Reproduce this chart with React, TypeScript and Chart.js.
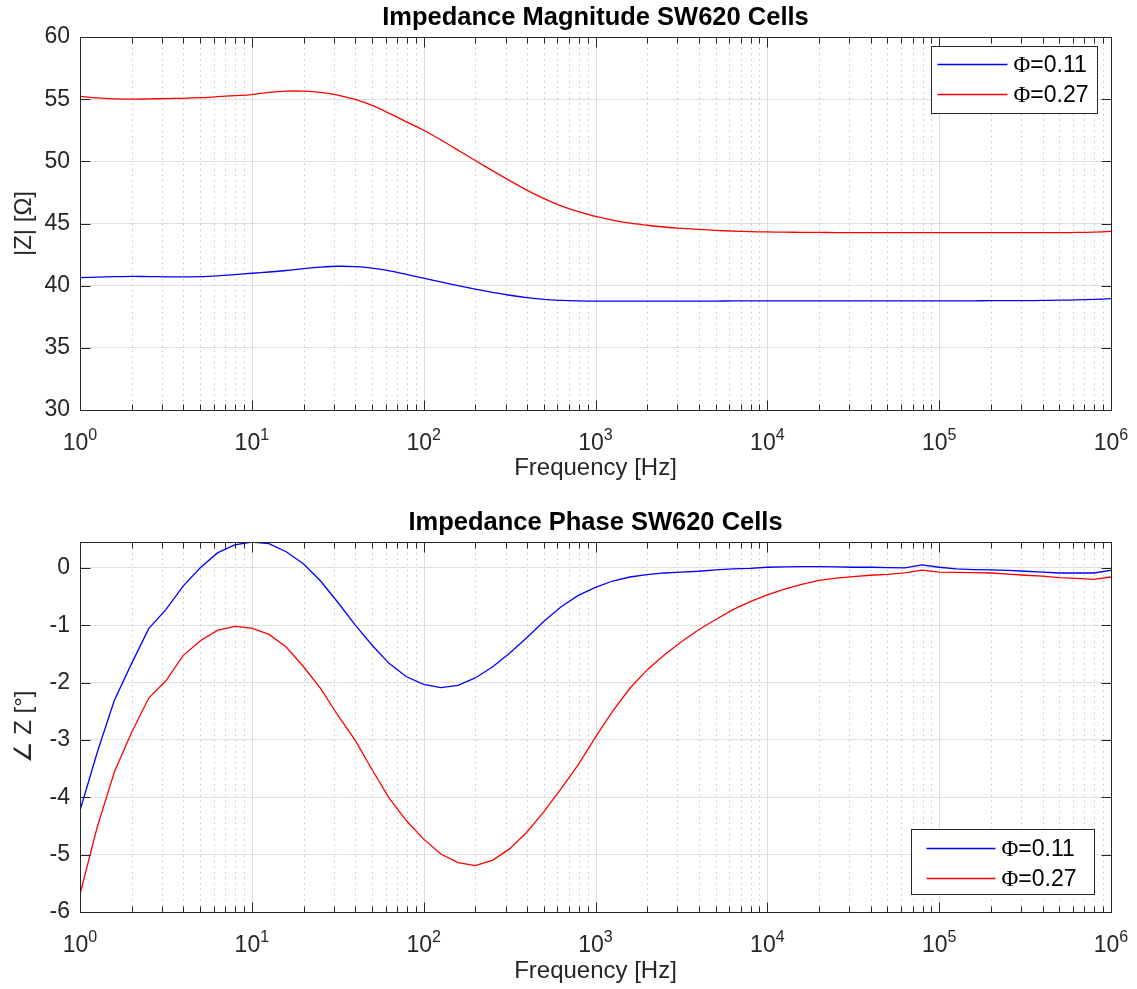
import React, { useEffect, useRef } from 'react';
import { Chart, registerables } from 'chart.js';

Chart.register(...registerables);

// ---------------- data ----------------
const FREQ_HZ = [
  1, 1.259, 1.585, 1.995, 2.512, 3.162, 3.981, 5.012, 6.31, 7.943,
  10, 12.59, 15.85, 19.95, 25.12, 31.62, 39.81, 50.12, 63.1, 79.43,
  100, 125.9, 158.5, 199.5, 251.2, 316.2, 398.1, 501.2, 631, 794.3,
  1000, 1259, 1585, 1995, 2512, 3162, 3981, 5012, 6310, 7943,
  10000, 12590, 15850, 19950, 25120, 31620, 39810, 50120, 63100, 79430,
  100000, 125900, 158500, 199500, 251200, 316200, 398100, 501200, 631000, 794300, 1000000,
];

const MAG_PHI_011 = [
  40.64, 40.68, 40.72, 40.75, 40.73, 40.71, 40.7, 40.72, 40.79, 40.89,
  41.0, 41.1, 41.22, 41.37, 41.49, 41.56, 41.53, 41.41, 41.19, 40.91,
  40.6, 40.3, 40.0, 39.72, 39.46, 39.23, 39.04, 38.9, 38.82, 38.77,
  38.75, 38.75, 38.75, 38.75, 38.76, 38.76, 38.76, 38.76, 38.77, 38.77,
  38.77, 38.77, 38.77, 38.77, 38.77, 38.78, 38.78, 38.78, 38.78, 38.78,
  38.78, 38.78, 38.78, 38.79, 38.79, 38.8, 38.81, 38.83, 38.86, 38.9, 38.95,
];

const MAG_PHI_027 = [
  55.23, 55.1, 55.03, 55.0, 55.02, 55.05, 55.07, 55.12, 55.2, 55.28,
  55.37, 55.55, 55.65, 55.64, 55.54, 55.33, 54.98, 54.5, 53.86, 53.18,
  52.5, 51.72, 50.9, 50.07, 49.25, 48.45, 47.68, 47.0, 46.42, 45.95,
  45.57, 45.27, 45.03, 44.86, 44.72, 44.61, 44.52, 44.45, 44.39, 44.35,
  44.32, 44.3, 44.29, 44.28, 44.27, 44.27, 44.26, 44.26, 44.26, 44.26,
  44.26, 44.26, 44.26, 44.26, 44.26, 44.26, 44.26, 44.27, 44.28, 44.31, 44.36,
];

const PHASE_PHI_011 = [
  -4.23, -3.22, -2.31, -1.67, -1.06, -0.73, -0.32, 0.0, 0.26, 0.4,
  0.45, 0.42, 0.28, 0.07, -0.23, -0.6, -0.99, -1.35, -1.67, -1.9,
  -2.03, -2.09, -2.05, -1.92, -1.73, -1.49, -1.22, -0.93, -0.68, -0.48,
  -0.34, -0.23, -0.16, -0.12, -0.09, -0.075, -0.06, -0.035, -0.02, -0.01,
  0.01, 0.015, 0.02, 0.02, 0.015, 0.01, 0.01, 0.005, 0.0, 0.05,
  0.01, -0.02, -0.03, -0.035, -0.045, -0.06, -0.075, -0.09, -0.09, -0.09, -0.045,
];

const PHASE_PHI_027 = [
  -5.69, -4.52, -3.56, -2.87, -2.27, -1.97, -1.53, -1.27, -1.09, -1.02,
  -1.05, -1.16, -1.38, -1.72, -2.1, -2.57, -3.0, -3.52, -4.02, -4.41,
  -4.73, -4.99, -5.14, -5.19, -5.1, -4.9, -4.61, -4.25, -3.85, -3.43,
  -2.95, -2.5, -2.1, -1.78, -1.52, -1.29, -1.08, -0.9, -0.73, -0.59,
  -0.47, -0.37, -0.29, -0.22, -0.18, -0.155, -0.13, -0.115, -0.09, -0.04,
  -0.075, -0.08, -0.085, -0.09, -0.11, -0.13, -0.145, -0.17, -0.185, -0.2, -0.16,
];

const SERIES_LABELS = ['Φ=0.11', 'Φ=0.27'];
const X_DECADES = [1, 10, 100, 1000, 10000, 100000, 1000000];
const X_EXPONENTS = ['0', '1', '2', '3', '4', '5', '6'];
const X_MINOR_MULT = [2, 3, 4, 5, 6, 7, 8, 9];

const MAG_TICKS = { min: 30, max: 60, step: 5 };
const PHASE_TICKS = { min: -6, max: 0.45, step: 1 };

// ---------------- styling ----------------
const SANS = "'Liberation Sans', Arial, Helvetica, sans-serif";
const SERIF = "'Liberation Serif', 'Times New Roman', serif";
const AXIS_COLOR = '#262626';
const BLUE = '#0000ff';
const RED = '#ff0000';

const matlabAxes = {
  id: 'matlabAxes',
  beforeDatasetsDraw(chart: any) {
    const { ctx, chartArea } = chart;
    const { top, bottom } = chartArea;
    const xs = chart.scales.x;
    ctx.save();
    // minor dotted grid
    ctx.strokeStyle = '#c6c6c6';
    ctx.lineWidth = 1;
    ctx.setLineDash([1.5, 4]);
    for (let d = 0; d < X_DECADES.length - 1; d++) {
      for (const m of X_MINOR_MULT) {
        const px = Math.round(xs.getPixelForValue(X_DECADES[d] * m)) + 0.5;
        ctx.beginPath();
        ctx.moveTo(px, top);
        ctx.lineTo(px, bottom);
        ctx.stroke();
      }
    }
    ctx.setLineDash([]);
    ctx.strokeStyle = '#dcdcdc';
    for (const v of X_DECADES) {
      const px = Math.round(xs.getPixelForValue(v)) + 0.5;
      ctx.beginPath();
      ctx.moveTo(px, top);
      ctx.lineTo(px, bottom);
      ctx.stroke();
    }
    ctx.restore();
  },
  afterDatasetsDraw(chart: any, _args: any, opts: any) {
    const { ctx, chartArea } = chart;
    const { left, right, top, bottom } = chartArea;
    const xs = chart.scales.x;
    const ys = chart.scales.y;
    ctx.save();
    ctx.strokeStyle = AXIS_COLOR;
    ctx.lineWidth = 1;
    const L = Math.floor(left) + 0.5;
    const R = Math.floor(right) + 0.5;
    const T = Math.floor(top) + 0.5;
    const B = Math.floor(bottom) + 0.5;
    ctx.strokeRect(L, T, R - L, B - T);
    ctx.beginPath();
    // x ticks (bottom + top)
    for (let d = 0; d < X_DECADES.length; d++) {
      const px = Math.round(xs.getPixelForValue(X_DECADES[d])) + 0.5;
      ctx.moveTo(px, B); ctx.lineTo(px, B - 10);
      ctx.moveTo(px, T); ctx.lineTo(px, T + 10);
      if (d < X_DECADES.length - 1) {
        for (const m of X_MINOR_MULT) {
          const qx = Math.round(xs.getPixelForValue(X_DECADES[d] * m)) + 0.5;
          ctx.moveTo(qx, B); ctx.lineTo(qx, B - 6);
          ctx.moveTo(qx, T); ctx.lineTo(qx, T + 6);
        }
      }
    }
    // y ticks (left + right)
    for (const t of ys.ticks) {
      const py = Math.round(ys.getPixelForValue(t.value)) + 0.5;
      ctx.moveTo(L, py); ctx.lineTo(L + 10, py);
      ctx.moveTo(R, py); ctx.lineTo(R - 10, py);
    }
    ctx.stroke();

    // x tick labels 10^n
    ctx.fillStyle = AXIS_COLOR;
    ctx.textBaseline = 'alphabetic';
    ctx.textAlign = 'left';
    for (let d = 0; d < X_DECADES.length; d++) {
      const px = xs.getPixelForValue(X_DECADES[d]);
      ctx.font = `23px ${SANS}`;
      const wb = ctx.measureText('10').width;
      ctx.font = `16px ${SANS}`;
      const we = ctx.measureText(X_EXPONENTS[d]).width;
      const x0 = px - (wb + we) / 2;
      ctx.font = `23px ${SANS}`;
      ctx.fillText('10', x0, bottom + 40);
      ctx.font = `16px ${SANS}`;
      ctx.fillText(X_EXPONENTS[d], x0 + wb, bottom + 30);
    }

    // legend
    const lg = opts.legend;
    if (lg) {
      const bx = Math.round(right - lg.insetX - lg.w) + 0.5;
      const by = lg.corner === 'ne'
        ? Math.round(top + lg.insetY) + 0.5
        : Math.round(bottom - lg.insetY - lg.h) + 0.5;
      ctx.fillStyle = '#ffffff';
      ctx.fillRect(bx, by, lg.w, lg.h);
      ctx.strokeStyle = AXIS_COLOR;
      ctx.lineWidth = 1;
      ctx.strokeRect(bx, by, lg.w, lg.h);
      chart.data.datasets.forEach((ds: any, i: number) => {
        const ry = by + lg.row0 + i * lg.rowGap;
        ctx.strokeStyle = ds.borderColor;
        ctx.lineWidth = 1.3;
        ctx.beginPath();
        ctx.moveTo(bx + lg.linePad, ry);
        ctx.lineTo(bx + lg.linePad + lg.lineLen, ry);
        ctx.stroke();
        const label: string = ds.label;
        let tx = bx + lg.linePad + lg.lineLen + lg.gap;
        ctx.fillStyle = '#000000';
        ctx.textBaseline = 'middle';
        if (label.startsWith('Φ')) {
          ctx.font = `23px ${SERIF}`;
          ctx.fillText('Φ', tx, ry + 1);
          tx += ctx.measureText('Φ').width;
          ctx.font = `23px ${SANS}`;
          ctx.fillText(label.slice(1), tx, ry + 1);
        } else {
          ctx.font = `23px ${SANS}`;
          ctx.fillText(label, tx, ry + 1);
        }
      });
    }
    ctx.restore();
  },
};

function makeConfig(
  title: string,
  titlePad: { top: number; bottom: number },
  yLabel: string,
  yTicks: { min: number; max: number; step: number },
  series: number[][],
  smooth: boolean,
  xAxisHeight: number,
  xTitleBottomPad: number,
  legend: any,
): any {
  const colors = [BLUE, RED];
  return {
    type: 'line',
    data: {
      datasets: series.map((vals, i) => ({
        label: SERIES_LABELS[i],
        data: FREQ_HZ.map((f, k) => ({ x: f, y: vals[k] })),
        borderColor: colors[i],
        backgroundColor: colors[i],
        borderWidth: 1.3,
        pointRadius: 0,
        fill: false,
        tension: smooth ? 0.35 : 0,
      })),
    },
    options: {
      responsive: false,
      animation: false,
      devicePixelRatio: 1,
      events: [],
      layout: { padding: { left: 0, right: 26, top: 0, bottom: 0 } },
      plugins: {
        legend: { display: false },
        tooltip: { enabled: false },
        title: {
          display: true,
          text: title,
          fullSize: false,
          color: '#000000',
          font: { family: SANS, size: 25.5, weight: 'bold', lineHeight: 1.2 },
          padding: titlePad,
        },
        matlabAxes: { legend },
      },
      scales: {
        x: {
          type: 'logarithmic',
          min: 1,
          max: 1000000,
          grid: { display: false },
          border: { display: false },
          ticks: { display: false },
          title: {
            display: true,
            text: 'Frequency [Hz]',
            color: AXIS_COLOR,
            font: { family: SANS, size: 24, lineHeight: 1.2 },
            padding: { top: 0, bottom: xTitleBottomPad },
          },
          afterFit: (s: any) => { s.height = xAxisHeight; },
        },
        y: {
          type: 'linear',
          min: yTicks.min,
          max: yTicks.max,
          ticks: {
            stepSize: yTicks.step,
            includeBounds: false,
            color: AXIS_COLOR,
            font: { family: SANS, size: 23 },
            padding: 10,
          },
          grid: { color: '#e0e0e0', drawTicks: false },
          border: { display: false },
          title: {
            display: true,
            text: yLabel,
            color: AXIS_COLOR,
            font: { family: SANS, size: 24, lineHeight: 1.2 },
            padding: { top: 10, bottom: 0 },
          },
          afterFit: (s: any) => { s.width = 80; },
        },
      },
    },
    plugins: [matlabAxes],
  };
}

export default function App() {
  const topRef = useRef<HTMLCanvasElement | null>(null);
  const botRef = useRef<HTMLCanvasElement | null>(null);

  useEffect(() => {
    const c1 = new Chart(
      topRef.current as HTMLCanvasElement,
      makeConfig(
        'Impedance Magnitude SW620 Cells',
        { top: 2.4, bottom: 4 },
        '|Z| [Ω]',
        MAG_TICKS,
        [MAG_PHI_011, MAG_PHI_027],
        true,
        84,
        11.6,
        { corner: 'ne', insetX: 14, insetY: 9, w: 166, h: 67, linePad: 6, lineLen: 70, gap: 6, row0: 18, rowGap: 30 },
      ),
    );
    const c2 = new Chart(
      botRef.current as HTMLCanvasElement,
      makeConfig(
        'Impedance Phase SW620 Cells',
        { top: 13.7, bottom: 3.7 },
        '∠ Z [°]',
        PHASE_TICKS,
        [PHASE_PHI_011, PHASE_PHI_027],
        false,
        77,
        3.6,
        { corner: 'se', insetX: 17, insetY: 18, w: 183, h: 65, linePad: 15, lineLen: 69, gap: 6, row0: 19, rowGap: 30 },
      ),
    );
    return () => {
      c1.destroy();
      c2.destroy();
    };
  }, []);

  return (
    <div style={{ position: 'absolute', left: 0, top: 0, width: 1137, height: 989, background: '#ffffff' }}>
      <canvas
        ref={topRef}
        width={1137}
        height={494}
        style={{ position: 'absolute', left: 0, top: 0, width: 1137, height: 494 }}
      />
      <canvas
        ref={botRef}
        width={1137}
        height={495}
        style={{ position: 'absolute', left: 0, top: 494, width: 1137, height: 495 }}
      />
    </div>
  );
}
